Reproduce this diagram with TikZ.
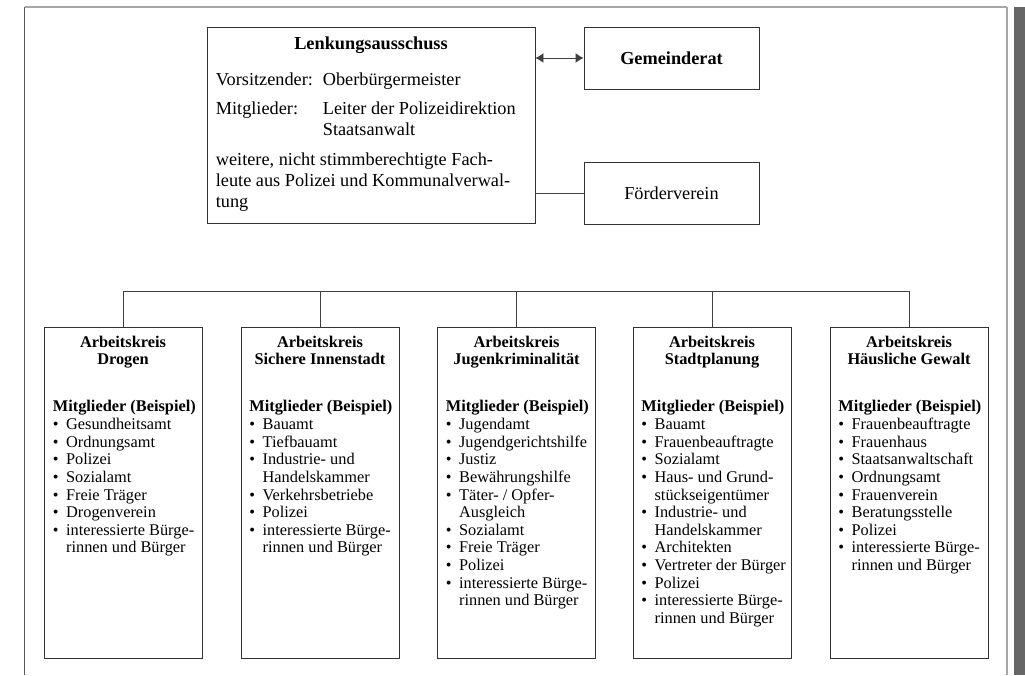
\documentclass[tikz,border=0pt]{standalone}
\usepackage{fontspec}
\setmainfont{Liberation Serif}
\usepackage{tikz}
\usetikzlibrary{arrows.meta}
\newcommand{\pkt}{\makebox[0.265cm][l]{\textbullet}}
\newcommand{\ein}{\hspace*{0.265cm}}

\begin{document}
\begin{tikzpicture}[
		box/.style={draw=black!80,line width=0.55pt},
		ak/.style={box,anchor=north,minimum width=3.16cm,minimum height=6.62cm,inner sep=0pt},
		aktitel/.style={anchor=north,align=center,inner sep=0pt,font=\fontsize{9.3}{9.5}\selectfont\bfseries},
		akliste/.style={anchor=north west,align=left,inner sep=0pt,font=\fontsize{9.3}{10.05}\selectfont},
		verb/.style={draw=black!75,line width=0.55pt}]
				\useasboundingbox (0,0) rectangle (20.5,13.5);
				% Rahmen
				\draw[black!35,line width=0.9pt] (0.49,13.36) -- (20.14,13.36);
				\draw[black!65,line width=0.6pt] (0.49,13.36) -- (0.49,0);
				\draw[black!35,line width=0.6pt] (20.14,13.36) -- (20.14,0);
				\fill[black!60] (20.28,0) rectangle (20.5,13.36);
				% oben
				\node[box,minimum width=6.56cm,minimum height=3.92cm] (lenk) at (7.42,11.0) {};
				\node[anchor=north,inner sep=0pt,font=\fontsize{10.4}{12}\selectfont\bfseries] (lenktitel) at ([yshift=-0.2cm]lenk.north) {Lenkungsausschuss};
				\node[anchor=north west,align=left,inner sep=0pt,font=\fontsize{10.4}{11.9}\selectfont] (lenktext) at ([xshift=0.18cm,yshift=-0.92cm]lenk.north west) {\makebox[2.14cm][l]{Vorsitzender:}Oberbürgermeister\\[0.16cm]
					\makebox[2.14cm][l]{Mitglieder:}Leiter der Polizeidirektion\\
					\hspace*{2.14cm}Staatsanwalt\\[0.18cm]
					weitere, nicht stimmberechtigte Fach-\\
					leute aus Polizei und Kommunalverwal-\\
					tung};
				\node[box,minimum width=3.5cm,minimum height=1.24cm,font=\fontsize{10.4}{12}\selectfont\bfseries] (rat) at (13.43,12.34) {Gemeinderat};
				\node[box,minimum width=3.5cm,minimum height=1.24cm,font=\fontsize{10.4}{12}\selectfont] (foerder) at (13.43,9.64) {Förderverein};
				\draw[verb,{Latex[length=1.6mm,width=2mm]}-{Latex[length=1.6mm,width=2mm]}] (lenk.east |- rat.west) -- (rat.west);
				\draw[verb] (lenk.east |- foerder.west) -- (foerder.west);
				% Arbeitskreise
				\node[ak] (ak1) at (2.46,6.96) {};
				\node[ak] (ak2) at (6.40,6.96) {};
				\node[ak] (ak3) at (10.33,6.96) {};
				\node[ak] (ak4) at (14.24,6.96) {};
				\node[ak] (ak5) at (18.18,6.96) {};
				\coordinate (bus) at (0,7.68);
				\draw[verb] (ak1.north) -- (ak1.north |- bus) -- (ak5.north |- bus) -- (ak5.north);
				\foreach \k in {ak2,ak3,ak4} \draw[verb] (\k.north) -- (\k.north |- bus);
				\node[aktitel] (t1) at ([yshift=-0.18cm]ak1.north) {Arbeitskreis\\Drogen};
				\node[aktitel] (t2) at ([yshift=-0.18cm]ak2.north) {Arbeitskreis\\Sichere Innenstadt};
				\node[aktitel] (t3) at ([yshift=-0.18cm]ak3.north) {Arbeitskreis\\Jugenkriminalität};
				\node[aktitel] (t4) at ([yshift=-0.18cm]ak4.north) {Arbeitskreis\\Stadtplanung};
				\node[aktitel] (t5) at ([yshift=-0.18cm]ak5.north) {Arbeitskreis\\Häusliche Gewalt};
				\node[akliste] (l1) at ([xshift=0.18cm,yshift=-1.46cm]ak1.north west) {\textbf{Mitglieder (Beispiel)}\\
					\pkt Gesundheitsamt\\ \pkt Ordnungsamt\\ \pkt Polizei\\ \pkt Sozialamt\\
					\pkt Freie Träger\\ \pkt Drogenverein\\
					\pkt interessierte Bürge-\\ \ein rinnen und Bürger};
				\node[akliste] (l2) at ([xshift=0.17cm,yshift=-1.46cm]ak2.north west) {\textbf{Mitglieder (Beispiel)}\\
					\pkt Bauamt\\ \pkt Tiefbauamt\\ \pkt Industrie- und\\ \ein Handelskammer\\
					\pkt Verkehrsbetriebe\\ \pkt Polizei\\
					\pkt interessierte Bürge-\\ \ein rinnen und Bürger};
				\node[akliste] (l3) at ([xshift=0.17cm,yshift=-1.46cm]ak3.north west) {\textbf{Mitglieder (Beispiel)}\\
					\pkt Jugendamt\\ \pkt Jugendgerichtshilfe\\ \pkt Justiz\\ \pkt Bewährungshilfe\\
					\pkt Täter- / Opfer-\\ \ein Ausgleich\\ \pkt Sozialamt\\ \pkt Freie Träger\\ \pkt Polizei\\
					\pkt interessierte Bürge-\\ \ein rinnen und Bürger};
				\node[akliste] (l4) at ([xshift=0.17cm,yshift=-1.46cm]ak4.north west) {\textbf{Mitglieder (Beispiel)}\\
					\pkt Bauamt\\ \pkt Frauenbeauftragte\\ \pkt Sozialamt\\ \pkt Haus- und Grund-\\ \ein stückseigentümer\\
					\pkt Industrie- und\\ \ein Handelskammer\\ \pkt Architekten\\ \pkt Vertreter der Bürger\\ \pkt Polizei\\
					\pkt interessierte Bürge-\\ \ein rinnen und Bürger};
				\node[akliste] (l5) at ([xshift=0.17cm,yshift=-1.46cm]ak5.north west) {\textbf{Mitglieder (Beispiel)}\\
					\pkt Frauenbeauftragte\\ \pkt Frauenhaus\\ \pkt Staatsanwaltschaft\\ \pkt Ordnungsamt\\
					\pkt Frauenverein\\ \pkt Beratungsstelle\\ \pkt Polizei\\
					\pkt interessierte Bürge-\\ \ein rinnen und Bürger};
			\end{tikzpicture}
\end{document}
